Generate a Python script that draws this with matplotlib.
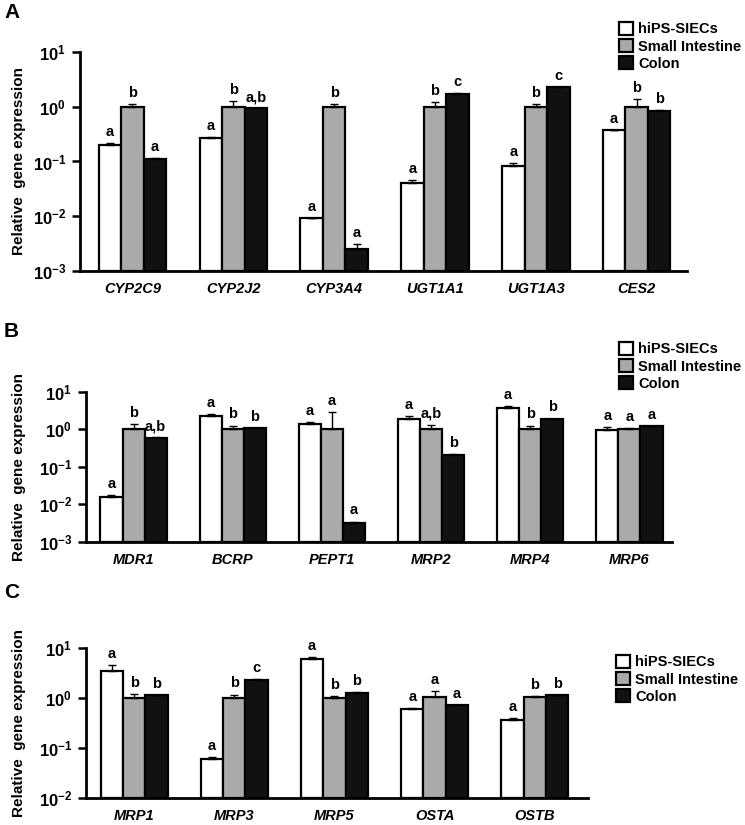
import matplotlib
matplotlib.use("Agg")
import matplotlib.pyplot as plt
import numpy as np
from matplotlib.patches import Patch

plt.rcParams['font.family'] = ['Liberation Sans', 'DejaVu Sans']
plt.rcParams['font.weight'] = 'bold'
plt.rcParams['mathtext.fontset'] = 'custom'
plt.rcParams['mathtext.bf'] = 'Liberation Sans:bold'
plt.rcParams['mathtext.rm'] = 'Liberation Sans:bold'

groups = ['hiPS-SIECs', 'Small Intestine', 'Colon']
colors = ['white', '#aaaaaa', '#111111']

# panel A
genes_a = ['CYP2C9', 'CYP2J2', 'CYP3A4', 'UGT1A1', 'UGT1A3', 'CES2']
hips_a = [0.20, 0.27, 0.0091, 0.041, 0.082, 0.38]
si_a = [1.0, 1.0, 1.0, 1.0, 1.0, 1.0]
colon_a = [0.11, 0.93, 0.0025, 1.73, 2.3, 0.85]
hips_err_a = [0.02, 0.01, 0.0003, 0.005, 0.013, 0.0]
si_err_a = [0.10, 0.28, 0.10, 0.20, 0.10, 0.38]
colon_err_a = [0.005, 0.01, 0.0006, 0.02, 0.0, 0.02]
sig_a = [['a', 'b', 'a'], ['a', 'b', 'a,b'], ['a', 'b', 'a'],
         ['a', 'b', 'c'], ['a', 'b', 'c'], ['a', 'b', 'b']]

# panel B
genes_b = ['MDR1', 'BCRP', 'PEPT1', 'MRP2', 'MRP4', 'MRP6']
hips_b = [0.016, 2.3, 1.36, 1.9, 3.7, 0.96]
si_b = [1.0, 1.0, 1.0, 1.0, 1.0, 1.0]
colon_b = [0.58, 1.07, 0.0032, 0.21, 1.9, 1.2]
hips_err_b = [0.002, 0.3, 0.19, 0.4, 0.4, 0.19]
si_err_b = [0.4, 0.25, 1.8, 0.3, 0.25, 0.05]
colon_err_b = [0.03, 0.03, 0.0003, 0.01, 0.03, 0.04]
sig_b = [['a', 'b', 'a,b'], ['a', 'b', 'b'], ['a', 'a', 'a'],
         ['a', 'a,b', 'b'], ['a', 'b', 'b'], ['a', 'a', 'a']]

# panel C
genes_c = ['MRP1', 'MRP3', 'MRP5', 'OSTA', 'OSTB']
hips_c = [3.5, 0.059, 6.1, 0.6, 0.36]
si_c = [1.0, 1.0, 1.0, 1.03, 1.03]
colon_c = [1.13, 2.3, 1.25, 0.72, 1.15]
hips_err_c = [1.1, 0.008, 0.5, 0.04, 0.04]
si_err_c = [0.22, 0.17, 0.1, 0.33, 0.07]
colon_err_c = [0.03, 0.05, 0.05, 0.0, 0.0]
sig_c = [['a', 'b', 'b'], ['a', 'b', 'c'], ['a', 'b', 'b'],
         ['a', 'a', 'a'], ['a', 'b', 'b']]


def draw_panel(ax, genes, vals, errs, sigs, ymin, ymax, xlim, label_x):
    x = np.arange(len(genes))
    width = 0.223
    ax.set_yscale('log')
    for k in range(3):
        pos = x + (k - 1) * width
        v = np.array(vals[k])
        e = np.array(errs[k])
        ax.bar(pos, v - ymin, width, bottom=ymin, color=colors[k],
               edgecolor='black', linewidth=1.6, zorder=2)
        ax.errorbar(pos, v, yerr=[np.zeros_like(e), e], fmt='none',
                    ecolor='black', elinewidth=1, capsize=3, capthick=1, zorder=3)
        for i in range(len(genes)):
            ax.annotate(sigs[i][k], (pos[i], v[i] + e[i]), xytext=(0, 3),
                        textcoords='offset points', ha='center', va='bottom',
                        fontsize=10.5, fontweight='bold')
    ax.set_ylim(ymin, ymax)
    ax.set_xlim(*xlim)
    ticks = 10.0 ** np.arange(np.log10(ymin), np.log10(ymax) + 1)
    ax.set_yticks(ticks)
    ax.set_yticklabels([r'$\mathbf{10^{%d}}$' % round(np.log10(t)) for t in ticks],
                       fontsize=12)
    ax.yaxis.set_minor_locator(matplotlib.ticker.NullLocator())
    ax.set_xticks(x)
    ax.set_xticklabels(genes, fontstyle='italic', fontweight='bold', fontsize=10.5)
    ax.tick_params(axis='x', length=0, pad=8)
    ax.tick_params(axis='y', length=6, width=1.8, pad=4)
    for s in ['top', 'right']:
        ax.spines[s].set_visible(False)
    for s in ['left', 'bottom']:
        ax.spines[s].set_linewidth(2)
    ax.set_ylabel('Relative  gene expression', fontsize=11, fontweight='bold')
    ax.yaxis.set_label_coords(label_x, 0.5)


def add_legend(fig, x, y):
    handles = [Patch(facecolor=c, edgecolor='black', linewidth=1.6) for c in colors]
    fig.legend(handles, groups, loc='upper left', bbox_to_anchor=(x, y),
               frameon=False, handlelength=0.95, handleheight=0.95,
               handletextpad=0.35, labelspacing=0.2, borderpad=0,
               borderaxespad=0, prop={'weight': 'bold', 'size': 10.5})


fig = plt.figure(figsize=(7.45, 8.25), dpi=100)

ax_a = fig.add_axes([0.1074, 0.6715, 0.8148, 0.2655])
draw_panel(ax_a, genes_a, [hips_a, si_a, colon_a],
           [hips_err_a, si_err_a, colon_err_a], sig_a,
           1e-3, 1e1, (-0.52, 5.5), -0.089)

ax_b = fig.add_axes([0.1154, 0.343, 0.7866, 0.1822])
draw_panel(ax_b, genes_b, [hips_b, si_b, colon_b],
           [hips_err_b, si_err_b, colon_err_b], sig_b,
           1e-3, 1e1, (-0.48, 5.43), -0.102)

ax_c = fig.add_axes([0.1154, 0.0327, 0.6738, 0.1818])
draw_panel(ax_c, genes_c, [hips_c, si_c, colon_c],
           [hips_err_c, si_err_c, colon_err_c], sig_c,
           1e-2, 1e1, (-0.48, 4.53), -0.12)

add_legend(fig, 619 / 745, 1 - 22 / 825)
add_legend(fig, 619 / 745, 1 - 342 / 825)
add_legend(fig, 616 / 745, 1 - 655 / 825)

for letter, ypix in [('A', 13), ('B', 332), ('C', 593)]:
    fig.text(4 / 745, 1 - ypix / 825, letter, fontsize=15, fontweight='bold',
             ha='left', va='center')

fig.savefig('out.png', dpi=100)
